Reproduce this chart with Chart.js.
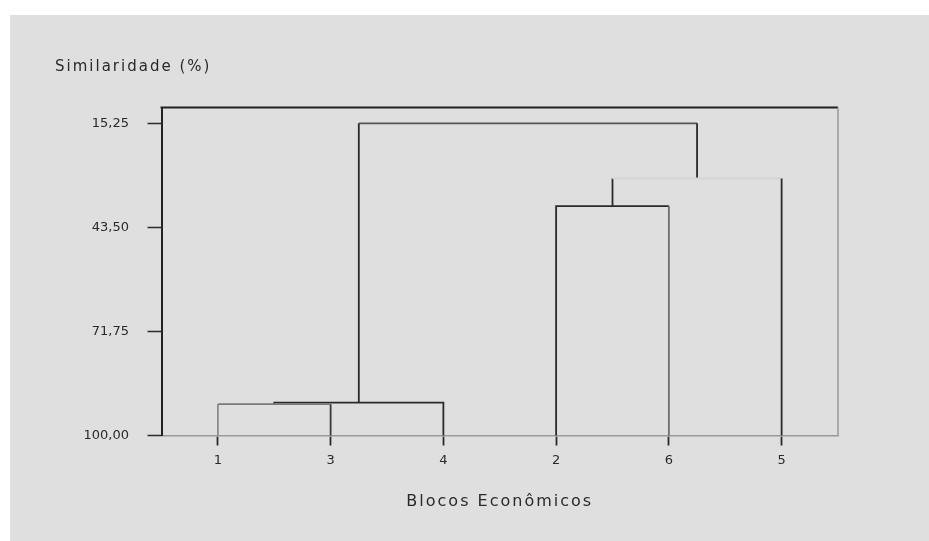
<!DOCTYPE html>
<html>
	<head>
		<meta charset="utf-8">
		<title>Similaridade - Blocos Econômicos</title>
		<script src="https://cdn.jsdelivr.net/npm/chart.js"></script>
		<style>
			body { margin: 0; background: #ffffff; }
			#panel { position: absolute; left: 10px; top: 15px; width: 919px; height: 526px; background: #dfdfdf; }
		</style>
	</head>
	<body>
		<div id="panel">
			<canvas id="dendro" width="919" height="526" aria-label="Dendrograma" role="img"></canvas>
		</div>
		<script type="text/javascript">
			// folhas na ordem do eixo x
			const leafOrder = ['1', '3', '4', '2', '6', '5'];
			// fusoes: grupo A + grupo B na altura (similaridade %), Cn = resultado da fusao n
			const mergeA = ['1', 'C1', '2', 'C3', 'C2'];
			const mergeB = ['3', '4', '6', '5', 'C4'];
			const mergeHeight = [91.5, 91.1, 37.7, 30.2, 15.25];
			const yTicks = [15.25, 43.50, 71.75, 100.00];

			// cores por fusao: perna A, barra, perna B (tons do original)
			const segColors = [
				['#8a8a8a', '#7a7a7a', '#3a3a3a'],
				['#2a2a2a', '#2a2a2a', '#2a2a2a'],
				['#2a2a2a', '#2a2a2a', '#6e6e6e'],
				['#2a2a2a', '#d4d4d4', '#2a2a2a'],
				['#2a2a2a', '#555555', '#2a2a2a']
			];

			let pos = {}, hgt = {};
			leafOrder.forEach((l, i) => { pos[l] = i + 1; hgt[l] = 100; });
			let datasets = mergeA.map((a, i) => {
				let b = mergeB[i], h = mergeHeight[i], c = 'C' + (i + 1);
				pos[c] = (pos[a] + pos[b]) / 2;
				hgt[c] = h;
				return {
					data: [{x: pos[a], y: hgt[a]}, {x: pos[a], y: h}, {x: pos[b], y: h}, {x: pos[b], y: hgt[b]}],
					borderColor: '#2a2a2a',
					borderWidth: 1.8,
					pointRadius: 0,
					tension: 0,
					clip: false,
					segment: { borderColor: ctx => segColors[i][ctx.p0DataIndex] }
				};
			});

			const textColor = '#2a2a2a';

			// espaco entre letras nos titulos (desenhados antes dos dados)
			const spacing = {
				id: 'spacing',
				beforeDraw(chart) { chart.ctx.letterSpacing = '2px'; },
				beforeDatasetsDraw(chart) {
					chart.ctx.letterSpacing = '0px';
					let {ctx, chartArea: a} = chart;
					ctx.save();
					ctx.lineWidth = 2;
					ctx.strokeStyle = '#222222';
					ctx.beginPath(); ctx.moveTo(a.left - 1, a.top); ctx.lineTo(a.right, a.top); ctx.stroke();
					ctx.lineWidth = 1.5;
					ctx.strokeStyle = '#9a9a9a';
					ctx.beginPath(); ctx.moveTo(a.right, a.top); ctx.lineTo(a.right, a.bottom); ctx.stroke();
					ctx.restore();
				}
			};

			new Chart(document.getElementById('dendro'), {
				type: 'line',
				data: { datasets: datasets },
				plugins: [spacing],
				options: {
					responsive: false,
					animation: false,
					parsing: false,
					layout: { padding: { left: 45, right: 91, top: 0, bottom: 0 } },
					plugins: {
						legend: { display: false },
						tooltip: { enabled: false },
						title: {
							display: true, align: 'start', text: 'Similaridade (%)', color: textColor,
							font: { family: 'DejaVu Sans', size: 15, weight: 'normal', lineHeight: 1.2 },
							padding: { top: 43, bottom: 31.5 }
						}
					},
					scales: {
						x: {
							type: 'linear', min: 0.5, max: 6.5,
							afterBuildTicks: s => { s.ticks = leafOrder.map((l, i) => ({ value: i + 1 })); },
							afterFit: s => { s.height = 105.5; },
							ticks: { z: 1, padding: 7, color: textColor, font: { family: 'DejaVu Sans', size: 13 }, callback: v => leafOrder[v - 1] },
							grid: { drawOnChartArea: false, tickLength: 10, tickColor: '#2a2a2a', tickWidth: 1.8 },
							border: { color: '#9a9a9a', width: 1.5 },
							title: { display: true, text: 'Blocos Econômicos', color: textColor, font: { family: 'DejaVu Sans', size: 16 }, padding: { top: 0, bottom: 29.4 } }
						},
						y: {
							type: 'linear', reverse: true, min: 10.95, max: 100,
							afterBuildTicks: s => { s.ticks = yTicks.map(v => ({ value: v })); },
							afterFit: s => { s.width = 106.5; },
							ticks: { z: 1, padding: 18.5, color: textColor, font: { family: 'DejaVu Sans', size: 13 }, callback: v => v.toFixed(2).replace('.', ',') },
							grid: { drawOnChartArea: false, tickLength: 14, tickColor: '#2a2a2a', tickWidth: 1.5 },
							border: { color: '#222222', width: 2 }
						}
					}
				}
			});
		</script>
	</body>
</html>
